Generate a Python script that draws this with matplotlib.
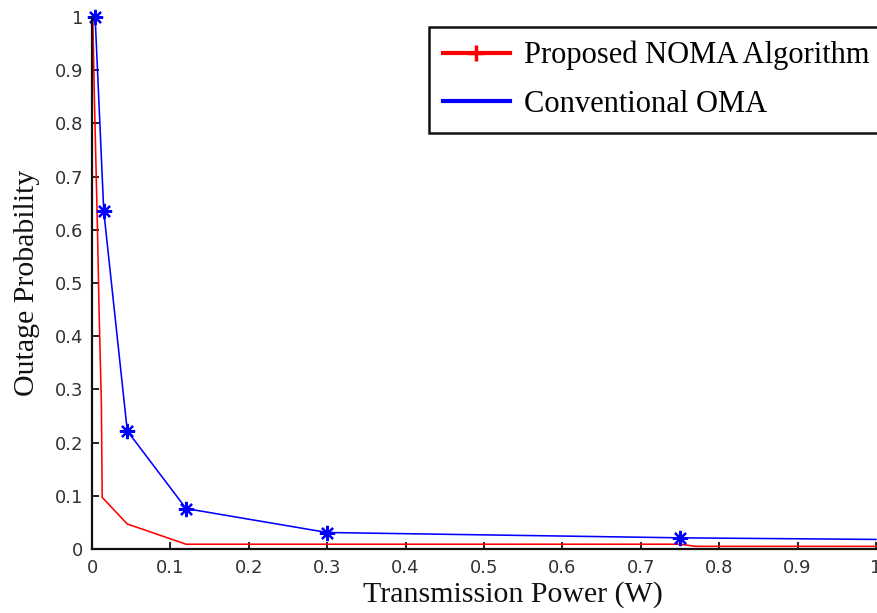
import matplotlib
matplotlib.use("Agg")
import matplotlib.pyplot as plt
from matplotlib.lines import Line2D

# Data
noma_x = [0.001, 0.003, 0.007, 0.009, 0.012, 0.013, 0.045, 0.12, 0.30, 0.75, 0.77, 1.0]
noma_y = [1.0, 0.85, 0.60, 0.45, 0.27, 0.097, 0.047, 0.009, 0.009, 0.009, 0.005, 0.005]

oma_x = [0.004, 0.015, 0.045, 0.12, 0.30, 0.75, 1.0]
oma_y = [1.0, 0.635, 0.222, 0.076, 0.031, 0.021, 0.018]

xticks = [0, 0.1, 0.2, 0.3, 0.4, 0.5, 0.6, 0.7, 0.8, 0.9, 1]
xtick_labels = ["0", "0.1", "0.2", "0.3", "0.4", "0.5", "0.6", "0.7", "0.8", "0.9", "1"]
yticks = [0, 0.1, 0.2, 0.3, 0.4, 0.5, 0.6, 0.7, 0.8, 0.9, 1]
ytick_labels = ["0", "0.1", "0.2", "0.3", "0.4", "0.5", "0.6", "0.7", "0.8", "0.9", "1"]

legend_labels = ["Proposed NOMA Algorithm", "Conventional OMA"]

W, H = 877, 613
fig = plt.figure(figsize=(W / 100, H / 100), dpi=100)
left, right, top, bottom = 92, 876, 17, 549
ax = fig.add_axes([left / W, (H - bottom) / H, (right - left) / W, (bottom - top) / H])

ast = (8, 2, 0)
ax.plot(noma_x, noma_y, color="#ff0000", lw=1.15, clip_on=False)
ax.plot(oma_x, oma_y, color="#0000ff", lw=1.15, marker=ast, markersize=11,
        markeredgewidth=1.6, markevery=list(range(6)), clip_on=False)

ax.set_xlim(0, 1)
ax.set_ylim(0, 1)
ax.set_xticks(xticks)
ax.set_xticklabels(xtick_labels)
ax.set_yticks(yticks)
ax.set_yticklabels(ytick_labels)

for s in ["top", "right"]:
    ax.spines[s].set_visible(False)
for s in ["left", "bottom"]:
    ax.spines[s].set_linewidth(1.6)
    ax.spines[s].set_color("#111111")

ax.tick_params(direction="in", length=5, width=1.3, color="#111111",
               labelsize=13, labelcolor="#333333")
ax.tick_params(axis="x", pad=7.5)
ax.tick_params(axis="y", pad=6.5)
for lab in ax.get_xticklabels() + ax.get_yticklabels():
    lab.set_fontfamily("DejaVu Sans")

serif = "Liberation Serif"
ax.set_xlabel("Transmission Power (W)", fontfamily=serif, fontsize=21.5,
              color="#111111")
ax.xaxis.set_label_coords((513 - left) / (right - left), (bottom - 581) / (bottom - top))
ax.set_ylabel("Outage Probability", fontfamily=serif, fontsize=21.5,
              color="#111111")
ax.yaxis.set_label_coords((40 - left) / (right - left), 0.5)

handles = [
    Line2D([], [], color="#ff0000", lw=3, marker="+", markersize=12, markeredgewidth=2.5),
    Line2D([], [], color="#0000ff", lw=3),
]
leg = ax.legend(handles, legend_labels, loc="upper left",
                bbox_to_anchor=((429 - left) / (right - left), (bottom - 27) / (bottom - top)),
                borderaxespad=0, frameon=True, fancybox=False,
                prop={"family": serif, "size": 22},
                handlelength=2.2, handletextpad=0.45, labelspacing=0.65,
                borderpad=0.45)
leg.get_frame().set_edgecolor("#111111")
leg.get_frame().set_linewidth(1.8)
leg.get_frame().set_alpha(1)

fig.savefig("out.png", dpi=100)
